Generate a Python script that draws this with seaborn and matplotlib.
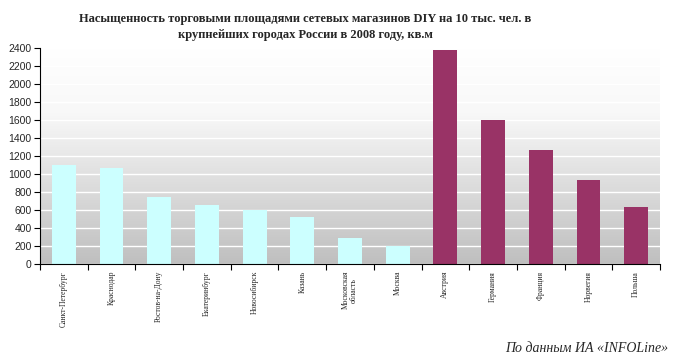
import numpy as np
import pandas as pd
import matplotlib
matplotlib.use("Agg")
import matplotlib.pyplot as plt
import seaborn as sns
from matplotlib.colors import LinearSegmentedColormap

categories = ["Санкт-Петербург", "Краснодар", "Ростов-на-Дону", "Екатеринбург",
              "Новосибирск", "Казань", "Московская\nобласть", "Москва",
              "Австрия", "Германия", "Франция", "Норвегия", "Польша"]
values = [1100, 1070, 750, 660, 600, 520, 290, 200, 2380, 1600, 1270, 930, 637]
groups = ["Россия"] * 8 + ["Европа"] * 5
yticks = [0, 200, 400, 600, 800, 1000, 1200, 1400, 1600, 1800, 2000, 2200, 2400]
title = "Насыщенность торговыми площадями сетевых магазинов DIY на 10 тыс. чел. в\nкрупнейших городах России в 2008 году, кв.м"
source = "По данным ИА «INFOLine»"

sns.set_theme(style="white")
plt.rcParams['font.family'] = ['Liberation Sans', 'DejaVu Sans']

df = pd.DataFrame({"cat": categories, "val": values, "grp": groups})

fig = plt.figure(figsize=(6.73, 3.56), dpi=100)
ax = fig.add_axes([40 / 673, 1 - 264 / 356, 620 / 673, 216 / 356])

sns.barplot(data=df, x="cat", y="val", hue="grp", dodge=False, width=0.5,
            palette={"Россия": "#ccffff", "Европа": "#993366"},
            saturation=1, legend=False, ax=ax, zorder=3, linewidth=0, edgecolor="none")

n = len(categories)
# gradient background: light at top, gray at bottom
cmap = LinearSegmentedColormap.from_list("bg", [(0, "#ffffff"), (0.3, "#f8f8f8"), (1, "#bfbfbf")])
grad = np.linspace(1, 0, 256).reshape(-1, 1)
ax.imshow(grad, aspect="auto", cmap=cmap, vmin=0, vmax=1,
          extent=(-0.5, n - 0.5, 0, 2400), origin="lower", zorder=0)
ax.set_xlim(-0.5, n - 0.5)
ax.set_ylim(0, 2400)

ax.set_yticks(yticks)
ax.set_yticklabels([str(v) for v in yticks], fontsize=7.5, family="Liberation Sans")
ax.yaxis.grid(True, color="white", linewidth=1)
for gl in ax.get_ygridlines():
    gl.set_zorder(1)

ax.set_xticks(np.arange(-0.5, n, 1.0))
ax.set_xticklabels([])
ax.set_xticks(np.arange(n), minor=True)
ax.set_xticklabels(categories, minor=True, rotation=90, fontsize=5.5,
                   family="Liberation Serif", va="top", ha="center", linespacing=1.0)
ax.tick_params(axis="x", which="major", direction="out", length=4, width=0.8, color="black", bottom=True)
ax.tick_params(axis="x", which="minor", length=0, pad=5)
ax.tick_params(axis="y", direction="out", length=4, width=0.8, color="black", left=True, pad=2)

ax.set_xlabel("")
ax.set_ylabel("")
for side in ["top", "right"]:
    ax.spines[side].set_visible(False)
for side in ["left", "bottom"]:
    ax.spines[side].set_color("black")
    ax.spines[side].set_linewidth(0.8)
    ax.spines[side].set_zorder(5)

fig.text(305 / 673, 1 - 27 / 356, title, ha="center", va="center", fontsize=9,
         fontweight="bold", family="Liberation Serif", linespacing=1.5)
fig.text(668 / 673, 1 - 348 / 356, source, ha="right", va="center", fontsize=10,
         style="italic", family="Liberation Serif")

fig.savefig("out.png", dpi=100)
